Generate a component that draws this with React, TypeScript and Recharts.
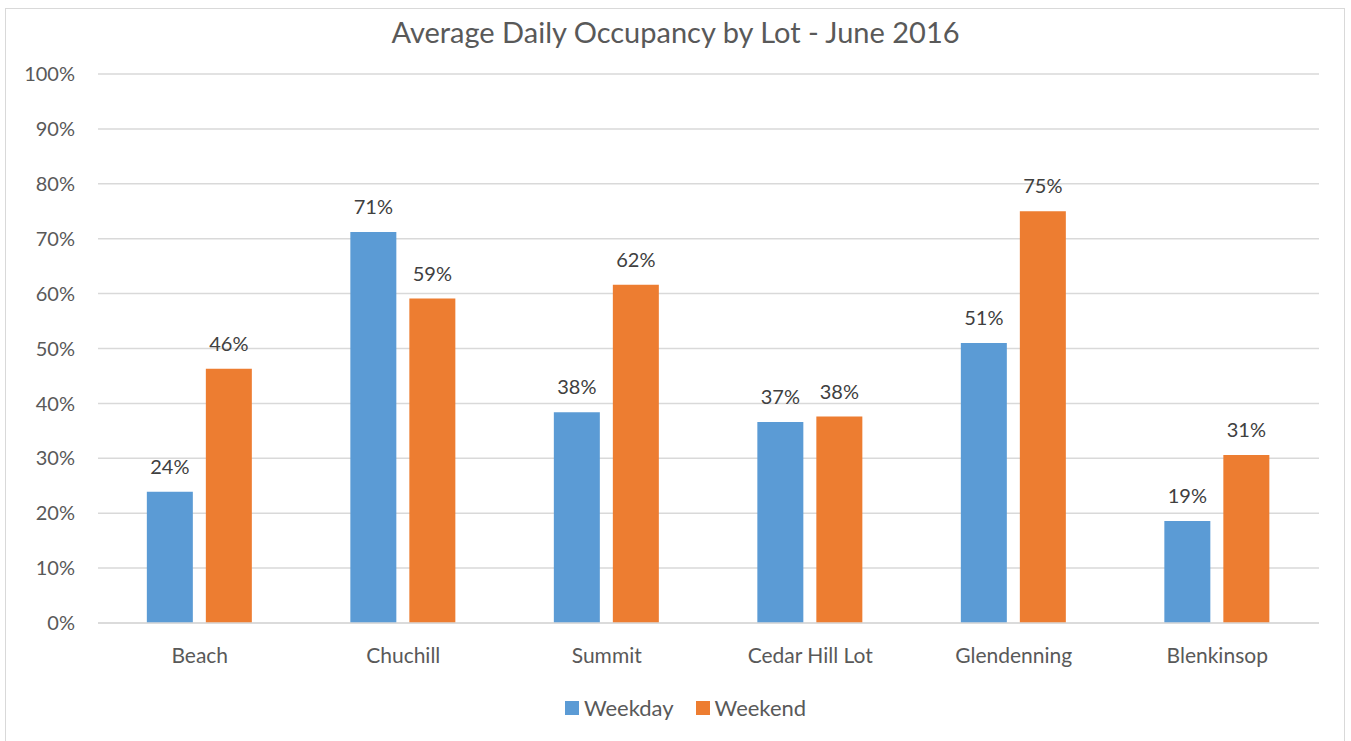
import React from 'react';
import { BarChart, Bar, XAxis, YAxis, CartesianGrid, LabelList } from 'recharts';

const lots = ['Beach', 'Chuchill', 'Summit', 'Cedar Hill Lot', 'Glendenning', 'Blenkinsop'];
const weekday = [23.9, 71.2, 38.4, 36.6, 51.0, 18.6];
const weekend = [46.3, 59.1, 61.6, 37.6, 75.0, 30.6];
const yTicks = [0, 10, 20, 30, 40, 50, 60, 70, 80, 90, 100];

const BLUE = '#5B9BD5';
const ORANGE = '#ED7D31';
const FONT = 'Lato, "Open Sans", sans-serif';

const data = lots.map((name, i) => ({ name, weekday: weekday[i], weekend: weekend[i] }));

const pct = (v: any) => `${Math.round(Number(v))}%`;

export default function App() {
  return (
    <div style={{ position: 'absolute', left: 0, top: 0, width: 1351, height: 741, overflow: 'hidden', background: '#fff', fontFamily: FONT }}>
      {/* chart frame, bottom edge is cropped off like the source */}
      <div style={{ position: 'absolute', left: 5, top: 8, width: 1340, height: 800, border: '1px solid #d9d9d9', boxSizing: 'border-box' }} />
      <div style={{ position: 'absolute', left: 0, top: 14, width: 1351, textAlign: 'center', fontSize: 29, color: '#595959' }}>
        Average Daily Occupancy by Lot - June 2016
      </div>
      <div style={{ position: 'absolute', left: 0, top: 0 }}>
        <BarChart
          width={1351}
          height={741}
          data={data}
          margin={{ top: 74, right: 32, bottom: 58, left: 0 }}
          barCategoryGap="24%"
          barGap={13}
        >
          <CartesianGrid vertical={false} stroke="#d9d9d9" strokeWidth={1.5} />
          <XAxis
            dataKey="name"
            axisLine={{ stroke: '#d9d9d9', strokeWidth: 1.5 }}
            tickLine={false}
            tickSize={0}
            tickMargin={25}
            height={60}
            interval={0}
            tick={{ fill: '#595959', fontSize: 21, fontFamily: FONT }}
          />
          <YAxis
            domain={[0, 100]}
            ticks={yTicks}
            width={98}
            axisLine={false}
            tickLine={false}
            tickSize={0}
            tickMargin={23}
            tickFormatter={(v) => `${v}%`}
            tick={{ fill: '#595959', fontSize: 20, fontFamily: FONT }}
          />
          <Bar dataKey="weekday" fill={BLUE} isAnimationActive={false}>
            <LabelList dataKey="weekday" position="top" offset={18} formatter={pct} fill="#404040" fontSize={20} fontFamily={FONT} />
          </Bar>
          <Bar dataKey="weekend" fill={ORANGE} isAnimationActive={false}>
            <LabelList dataKey="weekend" position="top" offset={18} formatter={pct} fill="#404040" fontSize={20} fontFamily={FONT} />
          </Bar>
        </BarChart>
      </div>
      <div style={{ position: 'absolute', left: 10, top: 694, width: 1351, display: 'flex', justifyContent: 'center', fontSize: 22, color: '#595959' }}>
        {[{ label: 'Weekday', color: BLUE }, { label: 'Weekend', color: ORANGE }].map((it) => (
          <div key={it.label} style={{ display: 'flex', alignItems: 'center', margin: '0 11px' }}>
            <span style={{ width: 14, height: 14, background: it.color, marginRight: 5 }} />
            <span>{it.label}</span>
          </div>
        ))}
      </div>
    </div>
  );
}
